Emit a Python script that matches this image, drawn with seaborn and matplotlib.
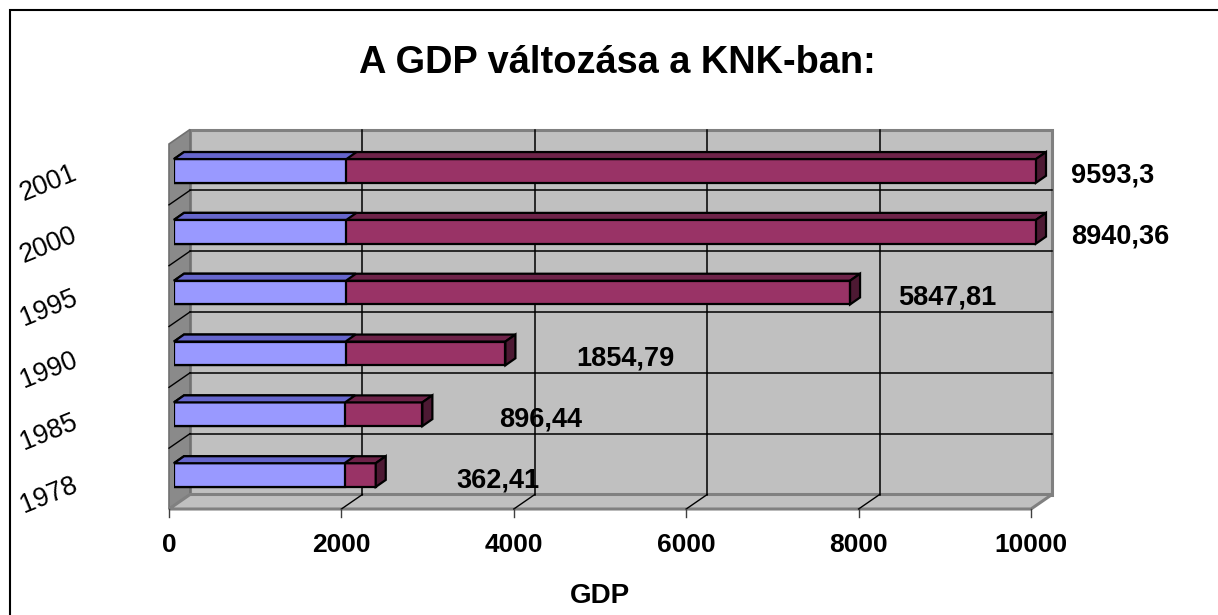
import numpy as np
import pandas as pd
import matplotlib
matplotlib.use("Agg")
import matplotlib.pyplot as plt
import matplotlib.transforms as mtransforms
import seaborn as sns
from matplotlib.patches import Polygon, Rectangle
from matplotlib.lines import Line2D

# ---------------- data ----------------
years = ['1978', '1985', '1990', '1995', '2000', '2001']
year_values = [1978, 1985, 1990, 1995, 2000, 2001]        # first (blue) series
gdp = [362.41, 896.44, 1854.79, 5847.81, 8940.36, 9593.3]  # second (maroon) series
x_ticks = [0, 2000, 4000, 6000, 8000, 10000]
title = 'A GDP változása a KNK-ban:'
x_label = 'GDP'

# ---------------- figure ----------------
W, H = 1218, 615
plt.rcParams['font.family'] = ['Liberation Sans', 'DejaVu Sans']
fig = plt.figure(figsize=(W / 100, H / 100), dpi=100)
fig.patch.set_facecolor('white')
ax = fig.add_axes([174 / W, (H - 505.5) / H, 862 / W, 365 / H])

df = pd.DataFrame({'year': years, 'base': year_values, 'gdp': gdp})
df['total'] = df['base'] + df['gdp']
order = years[::-1]

BLUE = '#9999FF'
MAROON = '#993366'
BLUE_TOP = '#6666CC'
MAROON_TOP = '#6E2349'
MAROON_SIDE = '#4D1933'
WALL = '#C0C0C0'
WALL_EDGE = '#808080'

sns.barplot(data=df, x='total', y='year', order=order, orient='h', color=MAROON,
            saturation=1, width=0.39, edgecolor='black', linewidth=1.6,
            errorbar=None, ax=ax, zorder=5)
sns.barplot(data=df, x='base', y='year', order=order, orient='h', color=BLUE,
            saturation=1, width=0.39, edgecolor='black', linewidth=1.6,
            errorbar=None, ax=ax, zorder=7)

XMAX = x_ticks[-1]
ax.set_xlim(0, XMAX)
ax.set_ylim(len(order) - 0.5, -0.5)
ax.axis('off')

# depth offsets in image pixels (dx right, dy down) relative to the bar front plane
FRONT = (-5, 3.5)
BACK = (16, -11)
BAR_D = (10, -7)


def shift(pts, off):
    pts = np.atleast_2d(np.asarray(pts, dtype=float))
    d = ax.transData.transform(pts)
    d[:, 0] += off[0]
    d[:, 1] -= off[1]
    return ax.transData.inverted().transform(d)


def poly(pts, **kw):
    p = Polygon(np.vstack(pts), closed=True, transform=ax.transData, clip_on=False, **kw)
    ax.add_patch(p)


def line(p0, p1, **kw):
    pts = np.vstack([p0, p1])
    ax.add_line(Line2D(pts[:, 0], pts[:, 1], transform=ax.transData, clip_on=False, **kw))


ytop, ybot = -0.5, len(order) - 0.5

# back wall
poly([shift((0, ytop), BACK), shift((XMAX, ytop), BACK),
      shift((XMAX, ybot), BACK), shift((0, ybot), BACK)],
     facecolor=WALL, edgecolor=WALL_EDGE, linewidth=2.2, zorder=1)
# left side wall
poly([shift((0, ytop), FRONT), shift((0, ybot), FRONT),
      shift((0, ybot), BACK), shift((0, ytop), BACK)],
     facecolor='#8A8A8A', edgecolor='#707070', linewidth=1.2, zorder=2)
# floor
poly([shift((0, ybot), FRONT), shift((XMAX, ybot), FRONT),
      shift((XMAX, ybot), BACK), shift((0, ybot), BACK)],
     facecolor=WALL, edgecolor=WALL_EDGE, linewidth=2.2, zorder=2)

# grid lines
for xt in x_ticks[1:-1]:
    line(shift((xt, ytop), BACK), shift((xt, ybot), BACK), color='black', lw=1.1, zorder=3)
    line(shift((xt, ybot), FRONT), shift((xt, ybot), BACK), color='black', lw=1.0, zorder=3)
for b in np.arange(0.5, len(order) - 0.5, 1.0):
    line(shift((0, b), BACK), shift((XMAX, b), BACK), color='black', lw=1.1, zorder=3)
    line(shift((0, b), FRONT), shift((0, b), BACK), color='black', lw=1.0, zorder=3)

# tick marks + tick labels on the front edge
for xt in x_ticks:
    p0 = shift((xt, ybot), FRONT)
    p1 = shift((xt, ybot), (FRONT[0], FRONT[1] + 8))
    line(p0, p1, color='#404040', lw=1.0, zorder=3)
    ax.annotate(f'{xt}', xy=p0[0], xycoords='data', xytext=(0, -43),
                textcoords='offset pixels', ha='center', va='baseline',
                fontsize=19, fontweight='bold', annotation_clip=False)

# 3D faces of bars
patches = list(ax.patches)
n = len(order)
maroon_bars = [p for p in patches if p.get_zorder() == 5][:n]
blue_bars = [p for p in patches if p.get_zorder() == 7][:n]

for p in maroon_bars:
    x0 = p.get_x()
    x1 = min(x0 + p.get_width(), XMAX)
    y0 = p.get_y()
    y1 = y0 + p.get_height()
    poly([(x0, y0), (x1, y0), shift((x1, y0), BAR_D), shift((x0, y0), BAR_D)],
         facecolor=MAROON_TOP, edgecolor='black', linewidth=1.6, zorder=5)
    poly([(x1, y0), (x1, y1), shift((x1, y1), BAR_D), shift((x1, y0), BAR_D)],
         facecolor=MAROON_SIDE, edgecolor='black', linewidth=1.6, zorder=5)

for p in blue_bars:
    x0 = p.get_x()
    x1 = min(x0 + p.get_width(), XMAX)
    y0 = p.get_y()
    poly([(x0, y0), (x1, y0), shift((x1, y0), BAR_D), shift((x0, y0), BAR_D)],
         facecolor=BLUE_TOP, edgecolor='black', linewidth=1.6, zorder=7)

# value labels
tot = dict(zip(df['year'], df['total']))
val = dict(zip(df['year'], df['gdp']))
for i, yr in enumerate(order):
    end = min(tot[yr], XMAX)
    off = 94 - 0.0059 * end
    ax.annotate(f'{val[yr]:g}'.replace('.', ','), xy=(end, i), xytext=(off, -12),
                textcoords='offset pixels', ha='left', va='baseline',
                fontsize=19.5, fontweight='bold', annotation_clip=False, zorder=9)

# category labels (rotated), placed on the slightly larger front plane
for i, yr in enumerate(order):
    tr = ax.get_yaxis_transform() + mtransforms.Affine2D().translate(0, -(1.0 + 1.6 * i))
    ax.text((76 - 174) / 862, i, yr, transform=tr,
            rotation=22, rotation_mode='anchor', ha='right', va='center',
            fontsize=19.2, clip_on=False)

# axis title and chart title
fig.text(600 / W, 1 - 603 / H, x_label, ha='center', va='baseline',
         fontsize=20, fontweight='bold')
fig.text(617 / W, 1 - 73 / H, title, ha='center', va='baseline',
         fontsize=27.4, fontweight='bold')

# chart-area border (only top and left visible)
fig.add_artist(Rectangle((10 / W, -0.1), 1.2, (H - 10) / H + 0.1,
                         transform=fig.transFigure, fill=False,
                         edgecolor='black', linewidth=1.5))

fig.savefig('out.png', dpi=100)
